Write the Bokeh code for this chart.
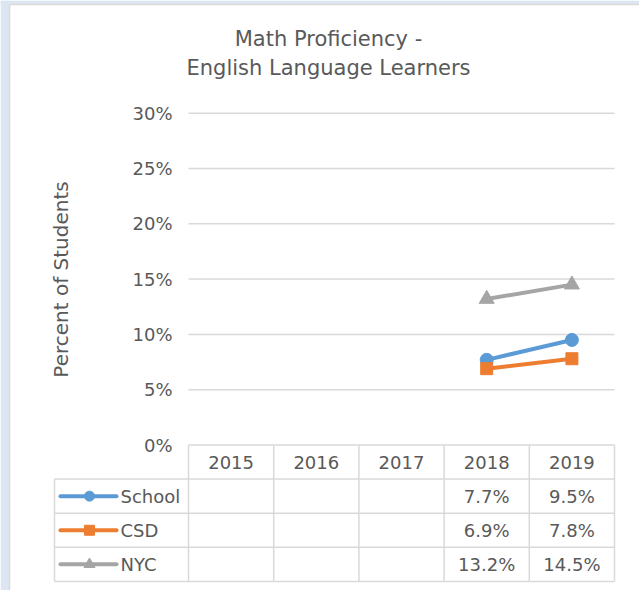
import math
from bokeh.plotting import figure
from bokeh.models import Range1d
from bokeh.embed import file_html
from bokeh.resources import INLINE
from bokeh.core.properties import value

# ---------------- data ----------------
years = ["2015", "2016", "2017", "2018", "2019"]
series_names = ["School", "CSD", "NYC"]
school = [None, None, None, 0.077, 0.095]
csd = [None, None, None, 0.069, 0.078]
nyc = [None, None, None, 0.132, 0.145]
y_ticks = [0.0, 0.05, 0.10, 0.15, 0.20, 0.25, 0.30]
y_tick_labels = ["0%", "5%", "10%", "15%", "20%", "25%", "30%"]
title_lines = ["Math Proficiency -", "English Language Learners"]
y_title = "Percent of Students"

# ---------------- style ----------------
colors = ["#5b9bd5", "#ed7d31", "#a5a5a5"]
markers = ["circle", "square", "triangle"]
marker_sizes = [13, 12, 15]
legend_marker_sizes = [10, 10, 11]
TEXT = "#595959"
GRID = "#d9d9d9"
PAGE_BG = "#dce6f2"
FONT = value("DejaVu Sans")

# ---------------- layout (figure pixels) ----------------
W, H = 639, 590
PLOT_L = 188.0          # left edge of first year column
CW = 85.2               # column width
Y0 = 444.5              # pixel row of 0%
PPU = 331.8 / 0.30      # pixels per unit of percent
RH = 34.1               # table row height
LEG_L = 54.0            # left edge of legend column

p = figure(width=W, height=H,
           x_range=Range1d(-PLOT_L / CW, (W - PLOT_L) / CW),
           y_range=Range1d(-(H - Y0) / PPU, Y0 / PPU),
           x_axis_location=None, y_axis_location=None,
           toolbar_location=None, output_backend="svg",
           min_border=0, outline_line_color=None,
           background_fill_color="white", border_fill_color="white")
p.xgrid.visible = False
p.ygrid.visible = False
p.extra_x_ranges = {"px": Range1d(0, W)}
p.extra_y_ranges = {"px": Range1d(H, 0)}

# surrounding sheet background and chart border
p.quad(left=[0, 0], right=[8.5, W], top=[0, 0], bottom=[H, 3.5],
       x_range_name="px", y_range_name="px",
       fill_color=PAGE_BG, line_color=None)
p.segment(x0=[9, 9], x1=[9, W], y0=[4, 4], y1=[H, 4],
          x_range_name="px", y_range_name="px",
          line_color=GRID, line_width=1.5)

# gridlines
gt = y_ticks[1:]
p.segment(x0=[0] * len(gt), x1=[len(years)] * len(gt), y0=gt, y1=gt,
          line_color=GRID, line_width=1.5)

# y tick labels
p.text(x=[PLOT_L - 16] * len(y_ticks), y=y_ticks, text=y_tick_labels,
       x_range_name="px", text_align="right", text_baseline="middle",
       text_font=FONT, text_font_size="18px", text_color=TEXT)

# table lines
n = len(years)
right = PLOT_L + n * CW
hx0, hx1, hy = [PLOT_L], [right], [Y0]
for r in range(1, len(series_names) + 2):
    hx0.append(LEG_L)
    hx1.append(right)
    hy.append(Y0 + r * RH)
p.segment(x0=hx0, x1=hx1, y0=hy, y1=hy, x_range_name="px", y_range_name="px",
          line_color=GRID, line_width=1.5)
bottom = Y0 + (len(series_names) + 1) * RH
vx = [PLOT_L + i * CW for i in range(n + 1)] + [LEG_L]
vy0 = [Y0] * (n + 1) + [Y0 + RH]
vy1 = [bottom] * (n + 2)
p.segment(x0=vx, x1=vx, y0=vy0, y1=vy1, x_range_name="px", y_range_name="px",
          line_color=GRID, line_width=1.5)

# header row
xc = [i + 0.5 for i in range(n)]
p.text(x=xc, y=[Y0 + RH / 2] * n, text=years, y_range_name="px",
       text_align="center", text_baseline="middle",
       text_font=FONT, text_font_size="18px", text_color=TEXT)

all_series = [school, csd, nyc]
for s, (name, vals) in enumerate(zip(series_names, all_series)):
    ry = Y0 + (s + 1.5) * RH
    # value cells
    vx_ = [xc[i] for i, v in enumerate(vals) if v is not None]
    vt = [f"{v * 100:.1f}%" for v in vals if v is not None]
    p.text(x=vx_, y=[ry] * len(vx_), text=vt, y_range_name="px",
           text_align="center", text_baseline="middle",
           text_font=FONT, text_font_size="18px", text_color=TEXT)
    # legend key
    p.segment(x0=[LEG_L + 6], x1=[LEG_L + 62], y0=[ry], y1=[ry],
              x_range_name="px", y_range_name="px",
              line_color=colors[s], line_width=4, line_cap="round")
    p.scatter(x=[LEG_L + 35], y=[ry], marker=markers[s], size=legend_marker_sizes[s],
              x_range_name="px", y_range_name="px",
              fill_color=colors[s], line_color=colors[s])
    p.text(x=[LEG_L + 66], y=[ry], text=[name], x_range_name="px", y_range_name="px",
           text_align="left", text_baseline="middle",
           text_font=FONT, text_font_size="18px", text_color=TEXT)
    # data line
    yv = [float("nan") if v is None else v for v in vals]
    p.line(x=xc, y=yv, line_color=colors[s], line_width=4)
    p.scatter(x=xc, y=yv, marker=markers[s], size=marker_sizes[s],
              fill_color=colors[s], line_color=colors[s])

# title
p.text(x=[328, 328], y=[38, 67], text=title_lines, x_range_name="px", y_range_name="px",
       text_align="center", text_baseline="middle",
       text_font=FONT, text_font_size="21px", text_color=TEXT)

# y axis title
p.text(x=[60], y=[279], text=[y_title], x_range_name="px", y_range_name="px",
       angle=math.pi / 2, text_align="center", text_baseline="middle",
       text_font=FONT, text_font_size="20px", text_color=TEXT)

open("out.html", "w").write(file_html(p, INLINE))
